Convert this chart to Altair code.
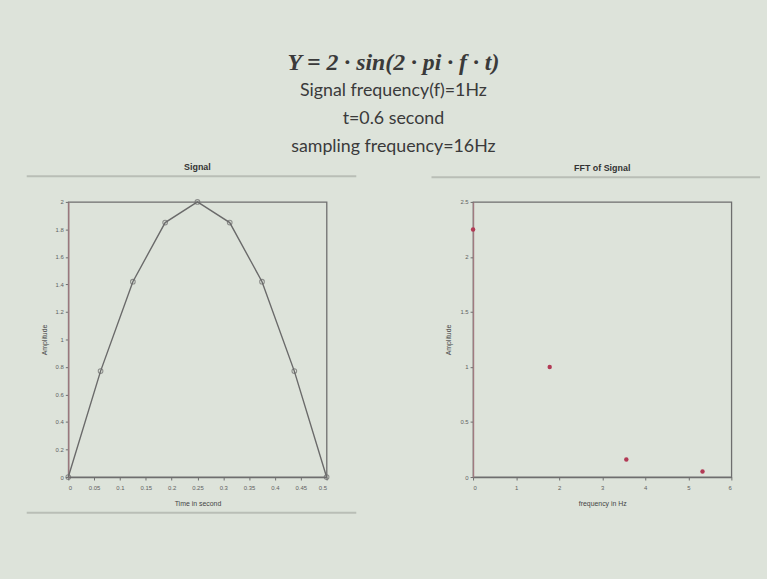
import altair as alt
import pandas as pd

# ---- data ----
sig_t = [0, 0.0625, 0.125, 0.1875, 0.25, 0.3125, 0.375, 0.4375, 0.5]
sig_amp = [0, 0.77, 1.42, 1.85, 2.0, 1.85, 1.42, 0.77, 0]

fft_freq = [0, 1.78, 3.56, 5.33]
fft_amp = [2.25, 1.0, 0.16, 0.05]

sig_xticks = [0, 0.05, 0.1, 0.15, 0.2, 0.25, 0.3, 0.35, 0.4, 0.45, 0.5]
sig_yticks = [0, 0.2, 0.4, 0.6, 0.8, 1.0, 1.2, 1.4, 1.6, 1.8, 2.0]
fft_xticks = [0, 1, 2, 3, 4, 5, 6]
fft_yticks = [0, 0.5, 1, 1.5, 2, 2.5]

header = "Y = 2 ∙ sin(2 ∙ pi ∙ f ∙ t)"
sublines = ["Signal frequency(f)=1Hz", "t=0.6 second", "sampling frequency=16Hz"]

BG = "#dde3da"
AX = "#6e6e6e"
LBL = "#5f5f5f"
SEP = "#b9beb6"

sig_df = pd.DataFrame({"t": sig_t, "amp": sig_amp})
fft_df = pd.DataFrame({"f": fft_freq, "amp": fft_amp})
one = pd.DataFrame({"a": [0]})

W, H = 261, 278


def axis(vals, title, orient, left_red=False):
    return alt.Axis(
        values=vals, format="~g", title=title, grid=False,
        labelFont="Liberation Sans", labelFontSize=6, labelColor=LBL,
        titleFont="Liberation Sans", titleFontSize=7, titleColor="#444",
        titleFontWeight="normal",
        tickSize=3, tickColor=AX, labelPadding=5 if orient == "x" else 2,
        domainColor="#a07a80" if left_red else AX, domainWidth=1.3,
        titlePadding=9 if orient == "x" else 8,
    )


def sep(y, x0=-42, x1=291):
    return alt.Chart(one).mark_rule(color=SEP, strokeWidth=2, clip=False).encode(
        x=alt.value(x0), x2=alt.value(x1), y=alt.value(y)
    )


sx = alt.X("t:Q", scale=alt.Scale(domain=[0, 0.5], nice=False),
           axis=axis(sig_xticks, "Time in second", "x"))
sy = alt.Y("amp:Q", scale=alt.Scale(domain=[0, 2], nice=False),
           axis=axis(sig_yticks, "Amplitude", "y", True))

sig_line = alt.Chart(sig_df).mark_line(color="#6a6a6a", strokeWidth=1.4).encode(x=sx, y=sy)
sig_pts = alt.Chart(sig_df).mark_point(shape="circle", filled=False, color="#6a6a6a",
                                       size=22, strokeWidth=1.1).encode(x=sx, y=sy)

left = alt.layer(sep(-26), sep(314), sig_line, sig_pts).properties(
    width=W, height=H,
    title=alt.TitleParams("Signal", font="Liberation Sans", fontSize=9,
                          fontWeight="bold", color="#333", offset=3),
)

fx = alt.X("f:Q", scale=alt.Scale(domain=[0, 6], nice=False),
           axis=axis(fft_xticks, "frequency in Hz", "x"))
fy = alt.Y("amp:Q", scale=alt.Scale(domain=[0, 2.5], nice=False),
           axis=axis(fft_yticks, "Amplitude", "y", True))

fft_pts = alt.Chart(fft_df).mark_point(shape="circle", filled=True, color="#b23a55",
                                       size=20, opacity=1).encode(x=fx, y=fy)

right = alt.layer(sep(-25, -42, 290), fft_pts).properties(
    width=W, height=H,
    title=alt.TitleParams("FFT of Signal", font="Liberation Sans", fontSize=9,
                          fontWeight="bold", color="#333", offset=3),
)

chart = alt.hconcat(left, right, spacing=72).properties(
    background=BG,
    padding={"left": 25, "top": 48, "right": 5, "bottom": 62},
    title=alt.TitleParams(
        text=header, subtitle=sublines,
        font="Liberation Serif", fontSize=24, fontStyle="italic",
        fontWeight="bold", color="#3a3a3a",
        subtitleFont="Lato", subtitleFontSize=18, subtitleColor="#3a3a3a",
        subtitleLineHeight=28, subtitlePadding=8,
        anchor="middle", offset=7,
    ),
).configure_view(stroke=AX, strokeWidth=1.3)

chart.save("out.html", embed_options={"renderer": "svg", "actions": False})
